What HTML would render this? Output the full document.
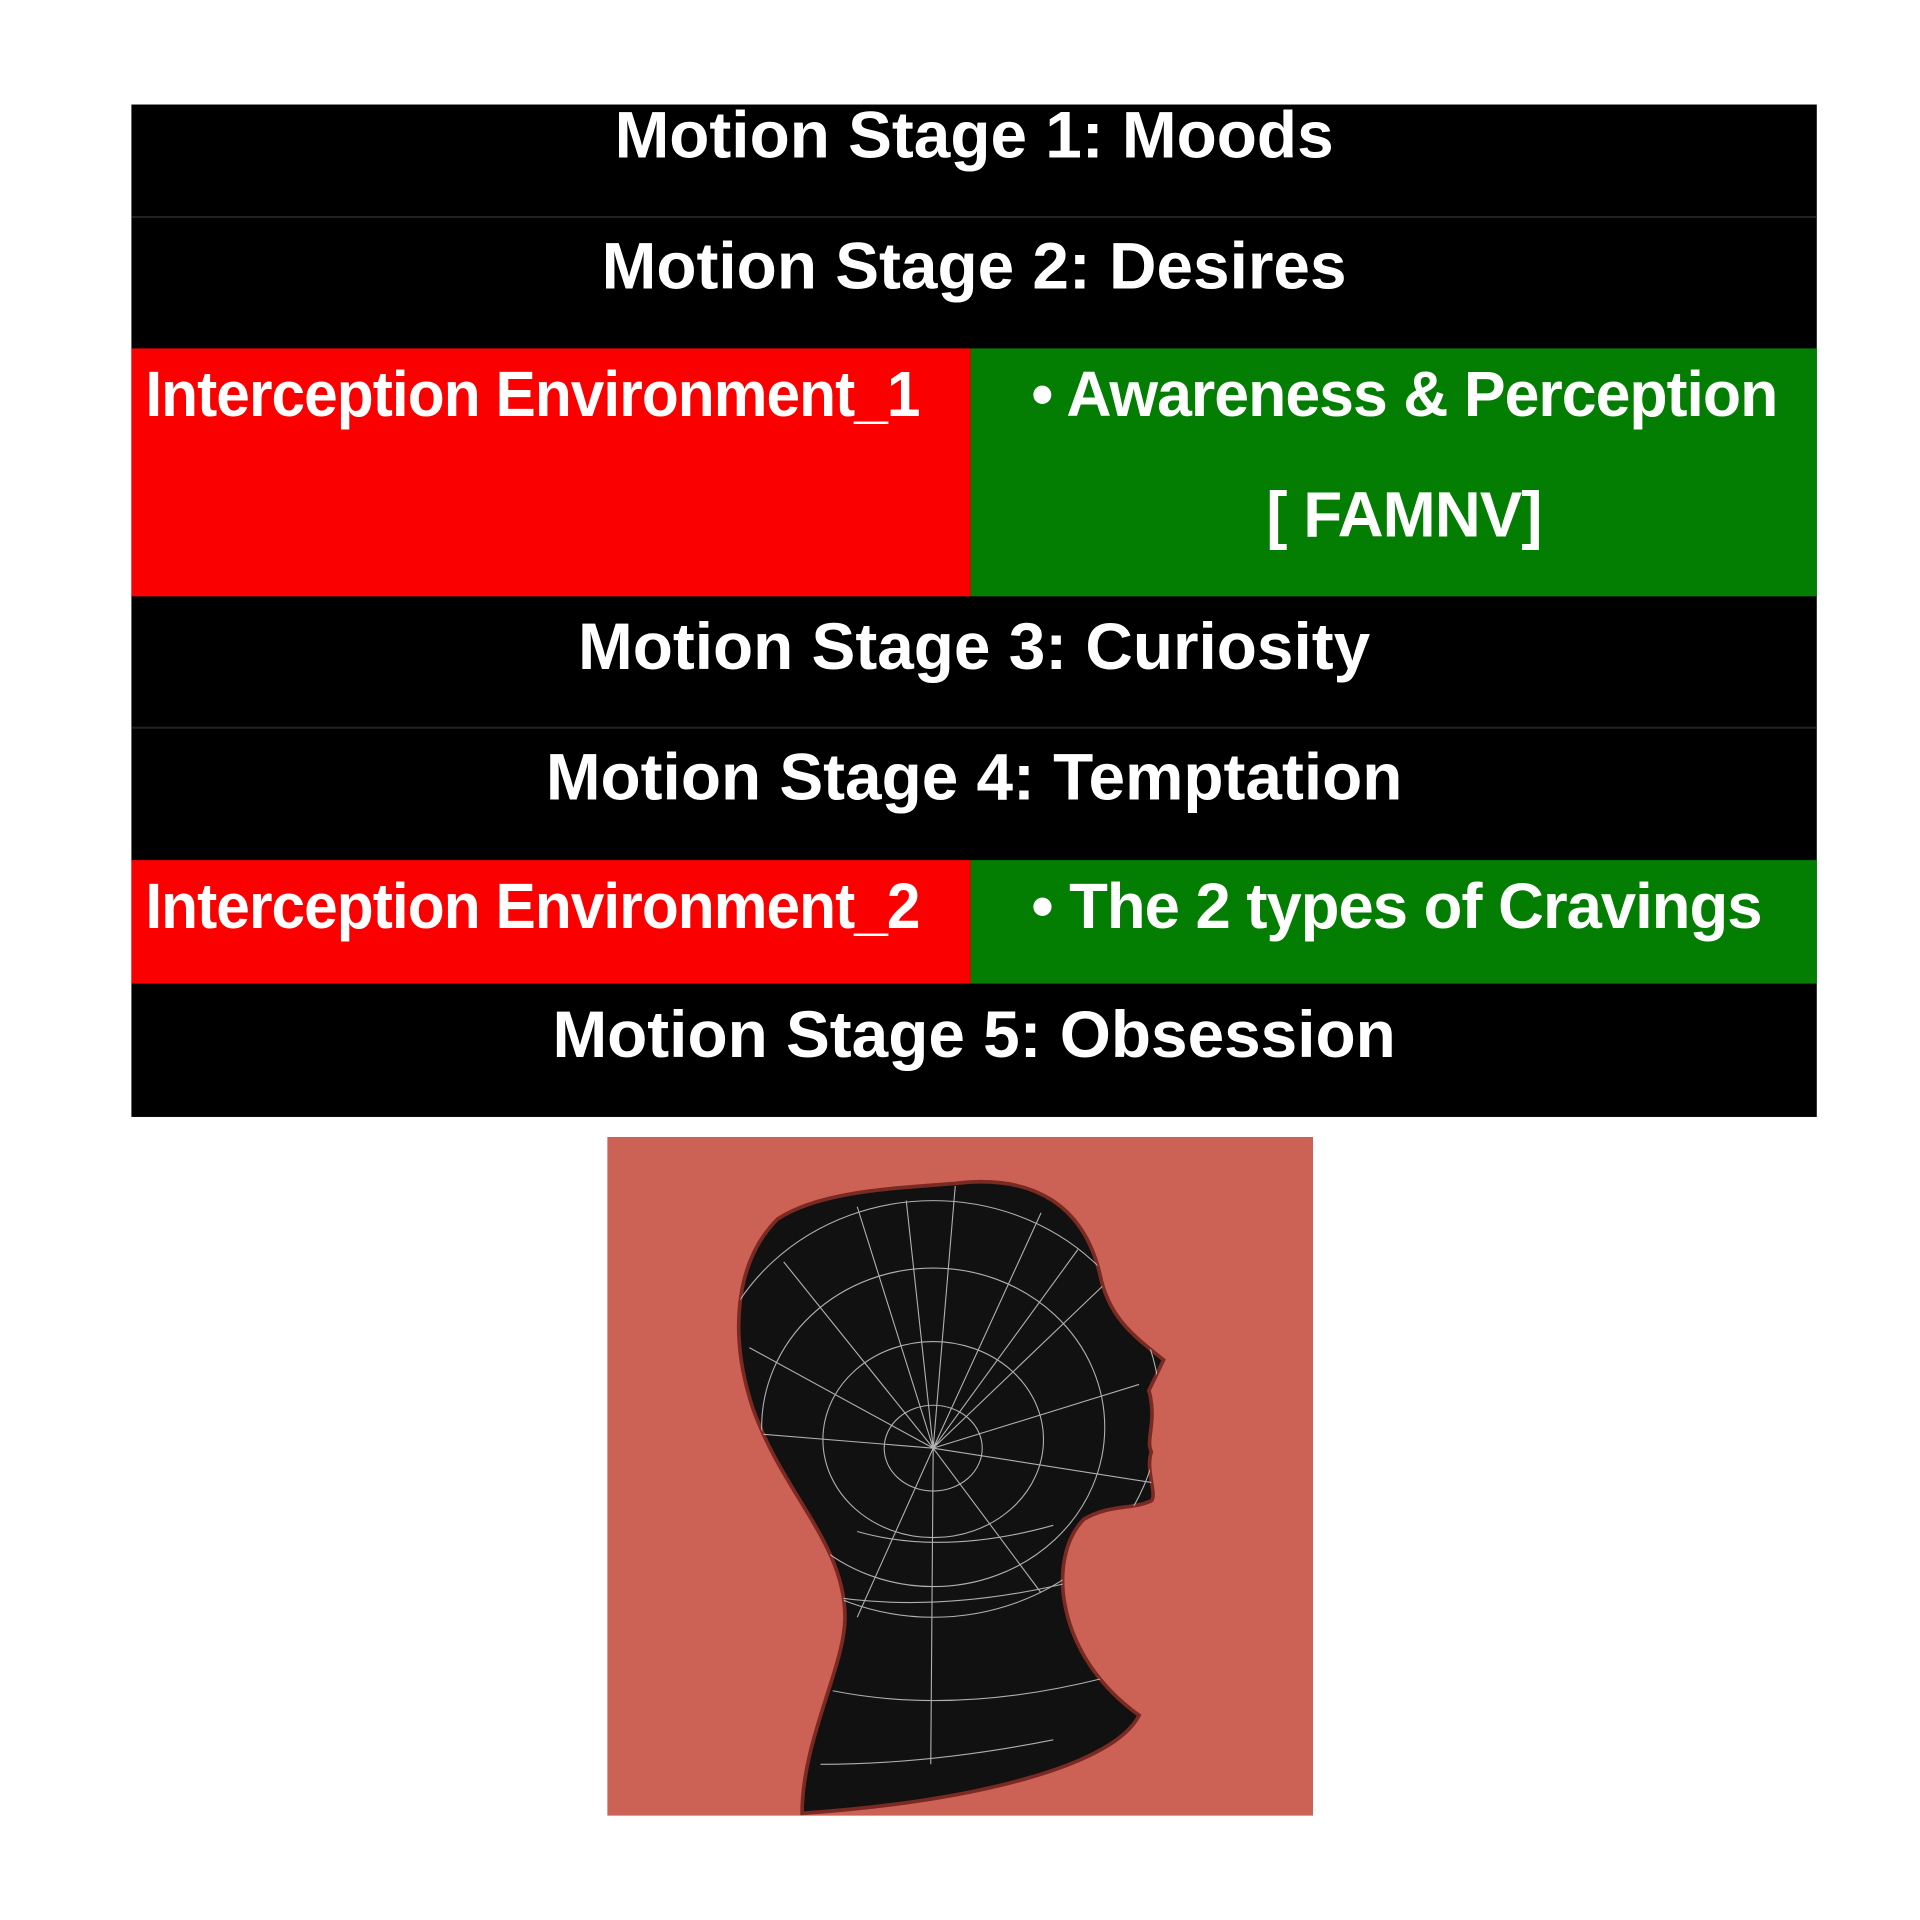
<!DOCTYPE html>
<html><head><meta charset="utf-8"><style>
html,body{margin:0;padding:0;background:#fff;width:1920px;height:1920px;overflow:hidden}
#w{position:absolute;left:0;top:0;width:1920px;height:1920px;transform:scale(0.9955);transform-origin:0 0}
.r{position:absolute;box-sizing:border-box}
.t{position:absolute;color:#fff;font-family:"Liberation Sans",sans-serif;font-weight:bold;white-space:nowrap;font-size:64px;line-height:1;letter-spacing:-1px}
.c{left:0;width:100%;text-align:center;font-size:66px;letter-spacing:0px}
</style></head><body><div id="w">
<div class="r" style="left:132px;top:105px;width:1693px;height:1017px;background:#000"></div>
<div class="r" style="left:132px;top:217px;width:1693px;height:2px;background:#222"></div>
<div class="r" style="left:132px;top:730px;width:1693px;height:2px;background:#222"></div>
<div class="r" style="left:132px;top:350px;width:843px;height:249px;background:#fa0000"></div>
<div class="r" style="left:975px;top:350px;width:850px;height:249px;background:#037e03"></div>
<div class="r" style="left:132px;top:864px;width:843px;height:124px;background:#fa0000"></div>
<div class="r" style="left:975px;top:864px;width:850px;height:124px;background:#037e03"></div>

<div class="r" style="left:132px;top:105px;width:1693px;height:1017px">
<div class="t c" style="top:-3px">Motion Stage 1: Moods</div>
<div class="t c" style="top:129px">Motion Stage 2: Desires</div>
<div class="t c" style="top:511px">Motion Stage 3: Curiosity</div>
<div class="t c" style="top:642px">Motion Stage 4: Temptation</div>
<div class="t c" style="top:901px">Motion Stage 5: Obsession</div>
</div>
<div class="t" style="left:146px;top:364px;transform:scaleX(0.948);transform-origin:0 0">Interception Environment_1</div>
<div class="t" style="left:146px;top:878px;transform:scaleX(0.948);transform-origin:0 0">Interception Environment_2</div>
<div class="t" style="left:1036px;top:364px;transform:scaleX(0.982);transform-origin:0 0">• Awareness &amp; Perception</div>
<div class="t" style="left:1272px;top:485px">[ FAMNV]</div>
<div class="t" style="left:1036px;top:878px;transform:scaleX(0.995);transform-origin:0 0">• The 2 types of Cravings</div>

<svg style="position:absolute;left:610px;top:1142px" width="709" height="682" viewBox="496 928 576 554">
<defs><clipPath id="hc"><path id="hp" d="M780 966 C845 958 885 985 898 1040 C905 1075 925 1090 950 1110 L938 1135 C945 1160 935 1175 940 1185 C935 1200 945 1220 940 1225 C925 1232 905 1228 885 1240 C855 1270 860 1350 930 1400 C910 1440 800 1470 655 1480 C655 1420 690 1360 690 1320 C690 1260 640 1220 615 1150 C595 1090 600 1030 635 995 C670 972 730 970 780 966 Z"/></clipPath></defs>
<rect x="496" y="928" width="576" height="554" fill="#cc6155"/>
<use href="#hp" fill="#111" stroke="#7a2a22" stroke-width="3"/>
<g stroke="#ccc" stroke-width="0.9" fill="none" opacity="0.85" clip-path="url(#hc)">
<path d="M762 1182 L780 968 M762 1182 L700 985 M762 1182 L640 1030 M762 1182 L612 1100 M762 1182 L850 990 M762 1182 L900 1050 M762 1182 L930 1130 M762 1182 L940 1210 M762 1182 L700 1320 M762 1182 L760 1440 M762 1182 L850 1300 M762 1182 L615 1170 M762 1182 L740 980 M762 1182 L880 1020"/>
<ellipse cx="762" cy="1182" rx="40" ry="35"/>
<ellipse cx="762" cy="1175" rx="90" ry="80"/>
<ellipse cx="762" cy="1165" rx="140" ry="130"/>
<ellipse cx="762" cy="1150" rx="185" ry="170"/>
<path d="M660 1300 Q760 1320 880 1290 M680 1380 Q780 1400 900 1370 M670 1440 Q760 1440 860 1420 M700 1250 Q770 1270 860 1245"/>
</g>
</svg>
</div></body></html>
